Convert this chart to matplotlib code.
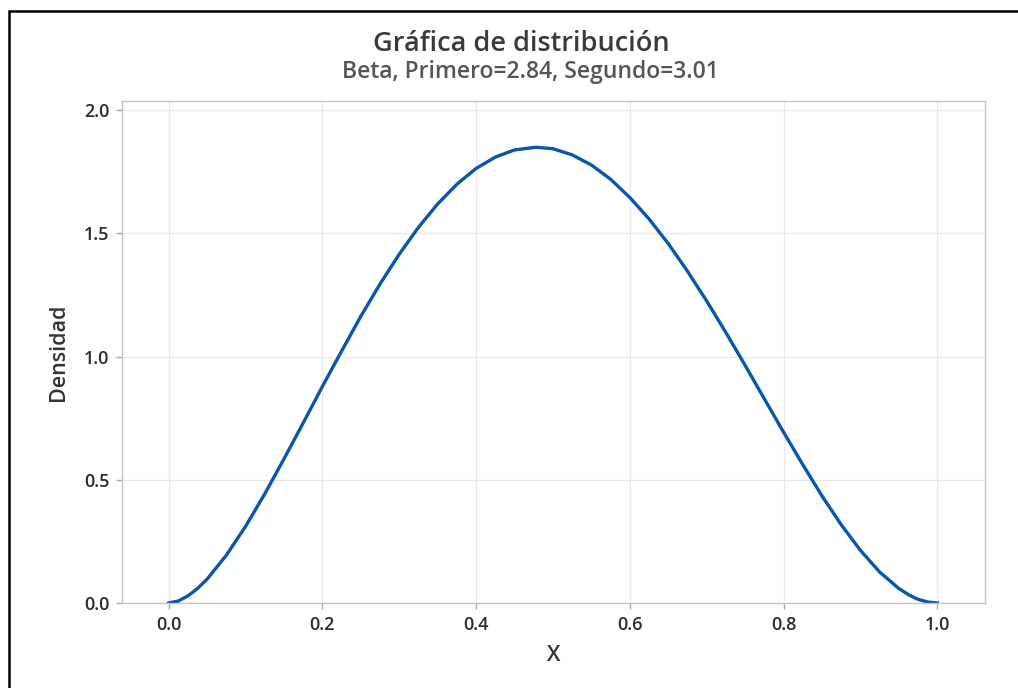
import matplotlib.pyplot as plt
from matplotlib.patches import Rectangle

plt.rcParams['font.family'] = ['Open Sans', 'DejaVu Sans']

# density values
x_vals = [0.0, 0.0125, 0.025, 0.0375, 0.05, 0.075, 0.10, 0.125, 0.15, 0.175,
          0.20, 0.225, 0.25, 0.275, 0.30, 0.325, 0.35, 0.375, 0.40, 0.425,
          0.45, 0.478, 0.50, 0.525, 0.55, 0.575, 0.60, 0.625, 0.65, 0.675,
          0.70, 0.725, 0.75, 0.775, 0.80, 0.825, 0.85, 0.875, 0.90, 0.925,
          0.95, 0.9625, 0.975, 0.9875, 1.0]
densidad = [0.0, 0.008, 0.029, 0.059, 0.097, 0.194, 0.311, 0.443, 0.585,
            0.731, 0.879, 1.023, 1.164, 1.295, 1.416, 1.525, 1.620, 1.700,
            1.764, 1.810, 1.839, 1.850, 1.844, 1.819, 1.778, 1.720, 1.646,
            1.559, 1.459, 1.347, 1.226, 1.098, 0.965, 0.829, 0.694, 0.562,
            0.435, 0.318, 0.214, 0.126, 0.059, 0.034, 0.015, 0.004, 0.0]
x_ticks = [0.0, 0.2, 0.4, 0.6, 0.8, 1.0]
y_ticks = [0.0, 0.5, 1.0, 1.5, 2.0]

W, H = 1018, 688
fig = plt.figure(figsize=(W / 100, H / 100), dpi=100)
ax = fig.add_axes([122 / W, 1 - 603 / H, (985 - 122) / W, (603 - 101) / H])

ax.plot(x_vals, densidad, color='#0A56A8', lw=2.4, solid_joinstyle='round')

ax.set_xlim(-0.0608, 1.0622)
ax.set_ylim(0, 2.0377)
ax.set_xticks(x_ticks)
ax.set_yticks(y_ticks)
ax.set_xticklabels([f"{t:.1f}" for t in x_ticks])
ax.set_yticklabels([f"{t:.1f}" for t in y_ticks])
ax.grid(True, color='#E8E8E8', lw=0.9)
ax.set_axisbelow(True)
for s in ax.spines.values():
    s.set_color('#C4C4C4')
    s.set_linewidth(1.0)
ax.tick_params(length=4, width=1, color='#AAAAAA', labelsize=13,
               labelcolor='#2B2B2B', pad=5)
for lab in ax.get_xticklabels() + ax.get_yticklabels():
    lab.set_fontweight('semibold')

ax.set_xlabel("X", fontsize=15.5, color='#333333', labelpad=8,
              fontweight='semibold')
ax.set_ylabel("Densidad", fontsize=15.5, color='#333333', labelpad=11,
              fontweight='semibold')

fig.text(521 / W, 1 - 44 / H, "Gráfica de distribución", ha='center',
         va='center', fontsize=19.5, color='#3A3A3A', fontweight='semibold')
fig.text(530 / W, 1 - 72 / H, "Beta, Primero=2.84, Segundo=3.01",
         ha='center', va='center', fontsize=16.5, color='#555555',
         fontweight='semibold')

# black frame around the picture (top and left edges visible)
fig.patches.append(Rectangle((9 / W, -0.1), 1.2, 1 - 11 / H + 0.1,
                             transform=fig.transFigure, fill=False,
                             edgecolor='black', lw=1.8))

fig.savefig("out.png", dpi=100)
